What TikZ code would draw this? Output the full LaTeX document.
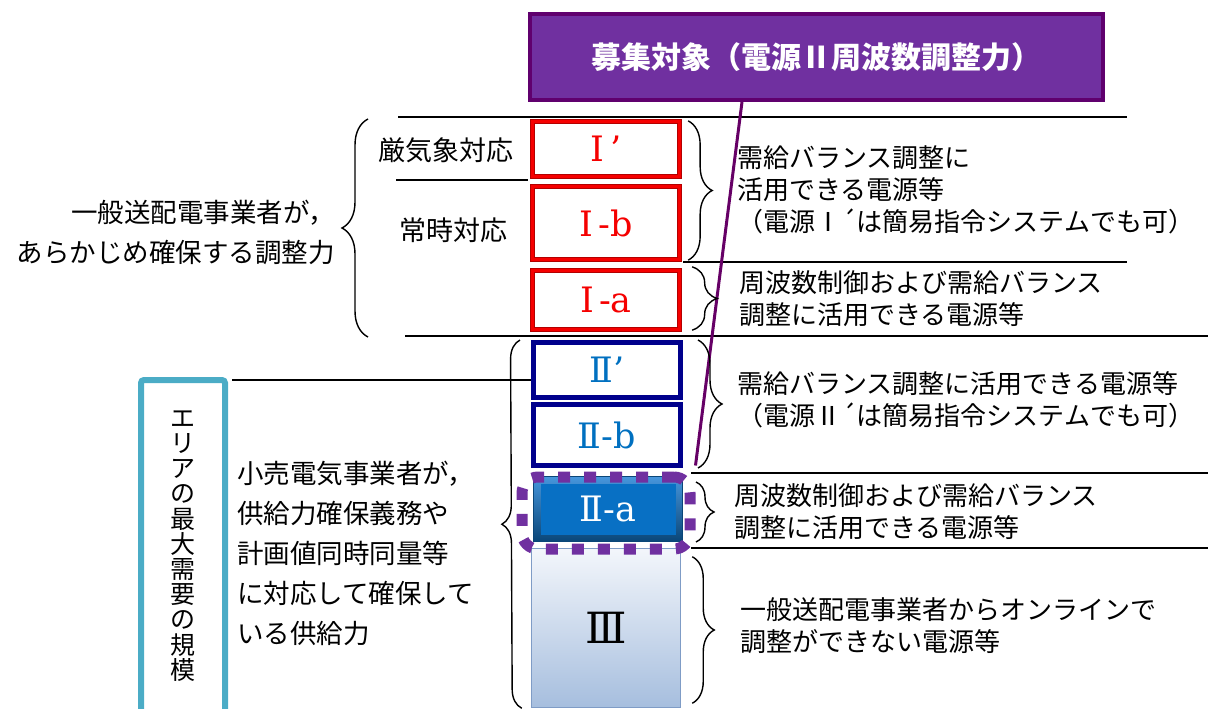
\documentclass[tikz,border=0pt]{standalone}
\usepackage{fontspec}
\setmainfont{Noto Sans CJK JP}
\newfontfamily\romanfont{DejaVu Serif}
\usetikzlibrary{positioning,decorations.pathreplacing}
\definecolor{titlepurple}{RGB}{112,48,160}
\definecolor{titleedge}{RGB}{96,0,110}
\definecolor{hookpurple}{RGB}{102,0,102}
\definecolor{areateal}{RGB}{75,172,198}
\definecolor{onered}{RGB}{245,0,0}
\definecolor{onedark}{RGB}{180,0,0}
\definecolor{twonavy}{RGB}{0,0,140}
\definecolor{twotext}{RGB}{0,112,192}
\definecolor{twoatop}{RGB}{70,150,220}
\definecolor{twoabot}{RGB}{10,70,120}
\definecolor{twoafill}{RGB}{8,112,196}
\definecolor{threetop}{RGB}{243,246,251}
\definecolor{threebot}{RGB}{166,190,222}
\definecolor{threeedge}{RGB}{127,156,198}
\newcommand{\bodyfont}{\fontsize{26}{32}\selectfont}
\newcommand{\sidefont}{\fontsize{26.5}{40}\selectfont}
\newcommand{\boxfont}{\romanfont\fontsize{35}{35}\selectfont}
\tikzset{
  onebox/.style={draw=onedark,double=onered,double distance=3pt,line width=1.3pt,
    fill=white,minimum width=147pt,text=onered,font=\boxfont},
  twobox/.style={draw=twonavy,line width=5pt,fill=white,minimum width=147pt,
    text=twotext,font=\boxfont},
  sep/.style={line width=2.5pt},
  curly/.style={decorate,decoration={brace,amplitude=#1},line width=1.4pt},
  rtext/.style={anchor=west,align=left,inner sep=0pt,font=\bodyfont},
  ring/.style={draw=titlepurple,line width=11pt,rounded corners=16pt,
    dash pattern=on 12pt off 14pt},
}

\begin{document}
\begin{tikzpicture}[x=1pt,y=-1pt]
\useasboundingbox (0,0) rectangle (1208,709);
% separators
\draw[sep] (398,117) -- (1127,117);
\draw[sep] (396,180) -- (528,180);
\draw[sep] (683,262) -- (1127,262);
\draw[sep] (405,336) -- (1208,336);
\draw[sep] (232,380) -- (531,380);
\draw[sep] (691,473) -- (1208,473);
\draw[sep] (691,548) -- (1208,548);
% title
\node[fill=titlepurple,draw=titleedge,line width=4pt,minimum width=573pt,minimum height=86pt,
  text=white,font=\fontsize{30}{30}\selectfont\bfseries] (title) at (816.5,57) {募集対象（電源Ⅱ周波数調整力）};
% column
\node[onebox,minimum height=55pt] (ip) at (606,149) {Ⅰ\kern6pt’};
\node[onebox,minimum height=73pt] (ib) at (606,223) {Ⅰ\kern5pt-b};
\node[onebox,minimum height=59pt] (ia) at (606,300) {Ⅰ\kern5pt-a};
\node[twobox,minimum height=55pt] (iip) at (607,370) {Ⅱ’};
\node[twobox,minimum height=61pt] (iib) at (607,435) {Ⅱ-b};
\node[top color=twoatop,bottom color=twoabot,draw=twoabot,line width=1pt,
  minimum width=149pt,minimum height=65pt,text=white,font=\boxfont,
  path picture={\fill[twoafill] ([shift={(7,7)}]path picture bounding box.north west)
    rectangle ([shift={(-7,-7)}]path picture bounding box.south east);}] (iia) at (608,509) {Ⅱ-a};
\node[top color=threetop,bottom color=threebot,draw=threeedge,line width=1.5pt,
  minimum width=149pt,minimum height=159pt,font=\romanfont\fontsize{43}{43}\selectfont] (iii) at (606,628) {Ⅲ};
\node[ring,minimum width=168pt,minimum height=72pt] (iiaring) at (606,513) {};
\draw[hookpurple,line width=3pt] ([xshift=-74.5pt]title.south) -- ([yshift=6pt]iiaring.north east);
% braces
\draw[curly=24pt] ([xshift=8pt]ip.north east) -- ([xshift=8pt]ib.south east);
\draw[curly=25pt] ([xshift=12pt,yshift=3pt]ia.north east) -- ([xshift=12pt]ia.south east);
\draw[curly=24pt] ([xshift=15pt]iip.north east) -- ([xshift=15pt]iib.south east);
\draw[curly=18pt] ([xshift=13pt,yshift=-6pt]iia.north east) -- ([xshift=13pt]iia.south east);
\draw[curly=22pt] ([xshift=11pt,yshift=-9pt]iii.north east) -- ([xshift=11pt,yshift=5pt]iii.south east);
\draw[curly=19pt] ([xshift=-9pt]iii.south west) -- ([xshift=-11pt]iip.north west);
\draw[curly=26pt] (368,337) -- (368,119);
% texts
\node[font=\fontsize{27}{27}\selectfont] (severe) at (446,150) {厳気象対応};
\node[font=\fontsize{27}{27}\selectfont] (always) at (453,230) {常時対応};
\node[anchor=east,align=right,inner sep=0pt,font=\sidefont] (tsoside) at (335,232) {一般送配電事業者が，\\あらかじめ確保する調整力};
\node[rtext] (needone) at (737,190) {需給バランス調整に\\活用できる電源等\\（電源Ⅰ´は簡易指令システムでも可）};
\node[rtext] (freqone) at (739,299) {周波数制御および需給バランス\\調整に活用できる電源等};
\node[rtext] (needtwo) at (737,400) {需給バランス調整に活用できる電源等\\（電源Ⅱ´は簡易指令システムでも可）};
\node[rtext] (freqtwo) at (734,512) {周波数制御および需給バランス\\調整に活用できる電源等};
\node[rtext] (offline) at (740,626) {一般送配電事業者からオンラインで\\調整ができない電源等};
\node[anchor=west,align=left,inner sep=0pt,font=\sidefont] (retail) at (237,553) {小売電気事業者が，\\供給力確保義務や\\計画値同時同量等\\に対応して確保して\\いる供給力};
% area box
\draw[areateal,line width=6pt,rounded corners=3pt] (141,715) -- (141,380) -- (225,380) -- (225,715);
\node[align=center,inner sep=0pt,font=\fontsize{25}{25.2}\selectfont] (areaname) at (183,546) {エ\\リ\\ア\\の\\最\\大\\需\\要\\の\\規\\模};
\end{tikzpicture}
\end{document}
